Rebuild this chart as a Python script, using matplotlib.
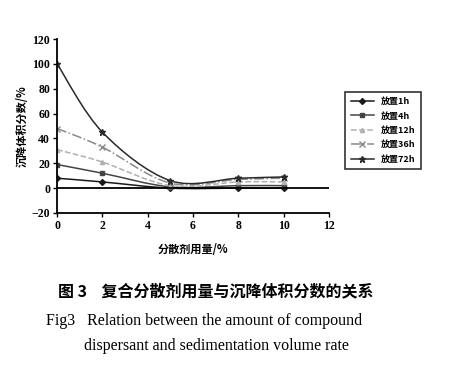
import numpy as np
import matplotlib
matplotlib.use("Agg")
from matplotlib import pyplot as plt
from matplotlib.path import Path
from matplotlib.patches import PathPatch

plt.rcParams['font.family'] = ['Liberation Serif', 'Noto Sans CJK SC']

# data
dose = [0, 2, 5, 8, 10]
labels = ["放置1h", "放置4h", "放置12h", "放置36h", "放置72h"]
v1h = [8, 5, 0, 0, 0]
v4h = [19, 12, 1, 2, 2]
v12h = [31, 21, 2, 5, 5]
v36h = [48, 33, 4, 7, 8]
v72h = [100, 45, 6, 8, 9]
series = [v1h, v4h, v12h, v36h, v72h]

colors = ["#1a1a1a", "#444444", "#b0b0b0", "#8a8a8a", "#2a2a2a"]
markers = ["D", "s", "^", "x", "*"]
styles = ["-", "-", "--", "-.", "-"]
msizes = [3, 3, 3, 4.5, 5]


def smooth_path(x, y):
    # Catmull-Rom style cubic Bezier through the points (like Excel smoothing)
    pts = np.column_stack([x, y]).astype(float)
    verts = [pts[0]]
    codes = [Path.MOVETO]
    n = len(pts)
    for i in range(n - 1):
        p0 = pts[i - 1] if i > 0 else pts[i]
        p1 = pts[i]
        p2 = pts[i + 1]
        p3 = pts[i + 2] if i + 2 < n else pts[i + 1]
        c1 = p1 + (p2 - p0) / 6.0
        c2 = p2 - (p3 - p1) / 6.0
        verts += [c1, c2, p2]
        codes += [Path.CURVE4] * 3
    return Path(verts, codes)


fig = plt.figure(figsize=(4.5, 3.79), dpi=100)
ax = fig.add_axes([0.127, 0.438, 0.604, 0.459])

for vals, c, m, ls, ms, lab in zip(series, colors, markers, styles, msizes, labels):
    patch = PathPatch(smooth_path(dose, vals), facecolor="none", edgecolor=c,
                      lw=1.1, ls=ls)
    ax.add_patch(patch)
    ax.plot(dose, vals, ls="none", marker=m, color=c, ms=ms)
    ax.plot([], [], ls=ls, marker=m, color=c, ms=ms, lw=1.1, label=lab)

ax.axhline(0, color="black", lw=1.3)
ax.set_xlim(0, 12)
ax.set_ylim(-20, 120)
ax.set_xticks(range(0, 13, 2))
ax.set_yticks(range(-20, 121, 20))
ax.set_yticklabels(["\u221220"] + [str(v) for v in range(0, 121, 20)])
for s in ["top", "right"]:
    ax.spines[s].set_visible(False)
ax.spines["left"].set_linewidth(1.3)
ax.spines["bottom"].set_linewidth(1.3)
ax.tick_params(labelsize=8.5, length=3, width=1, pad=2)
for t in ax.get_xticklabels() + ax.get_yticklabels():
    t.set_fontweight("bold")

ax.set_xlabel("分散剂用量/%", fontsize=8, fontweight="bold",
              family=['Noto Sans CJK SC', 'DejaVu Sans'], labelpad=8)
ax.set_ylabel("沉降体积分数/%", fontsize=8, fontweight="bold",
              family=['Noto Sans CJK SC', 'DejaVu Sans'], labelpad=2)

leg = fig.legend(loc="upper left", bbox_to_anchor=(0.757, 0.77),
                 prop={'family': ['Noto Sans CJK SC', 'DejaVu Sans'],
                       'size': 6.5, 'weight': 'bold'},
                 frameon=True, fancybox=False, handlelength=2.6,
                 labelspacing=0.6, borderpad=0.6)
leg.get_frame().set_edgecolor("black")
leg.get_frame().set_linewidth(1.2)

fig.text(0.48, 0.218, "图 3    复合分散剂用量与沉降体积分数的关系", ha="center",
         fontsize=11.5, fontweight="bold",
         family=['Noto Sans CJK SC', 'DejaVu Sans'])
fig.text(0.103, 0.142, "Fig3   Relation between the amount of compound",
         ha="left", fontsize=11.5, family='Liberation Serif')
fig.text(0.48, 0.077, "dispersant and sedimentation volume rate",
         ha="center", fontsize=11.5, family='Liberation Serif')

fig.savefig("out.png", dpi=100)
